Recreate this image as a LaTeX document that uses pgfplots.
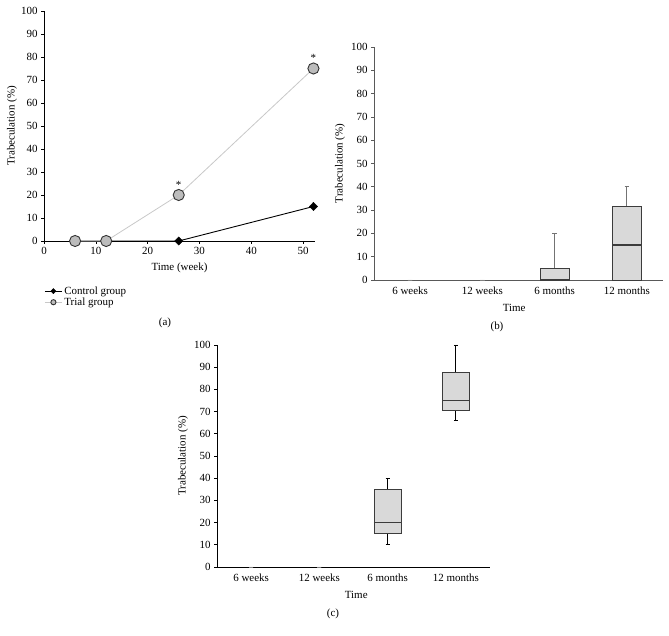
\documentclass[border=0pt]{standalone}
\usepackage{fontspec}
\setmainfont{Liberation Serif}
\usepackage{pgfplots}
\pgfplotsset{compat=1.18}
\usepgfplotslibrary{statistics}

\definecolor{boxfill}{RGB}{217,217,217}
\definecolor{boxedge}{RGB}{60,60,60}
\definecolor{trialline}{RGB}{200,200,200}
\definecolor{trialfill}{RGB}{188,188,188}

\pgfplotsset{
 mystyle/.style={
   scale only axis,
   anchor=south west,
   axis x line=bottom, axis y line=left,
   axis line style={-, black, line width=0.8pt},
   tick style={black, line width=0.6pt},
   major tick length=3bp,
   tick align=outside,
   ymin=0, ymax=100, ytick={0,10,...,100},
   font=\fontsize{11}{13}\selectfont,
   /pgf/number format/assume math mode=true,
   ticklabel style={font=\fontsize{11}{13}\selectfont},
   ylabel={Trabeculation (\%)},
   clip=false,
   boxplot/draw direction=y,
 },
 mybox/.style={
   boxplot/box extend=0.4,
   boxplot/whisker extend=0.06,
   fill=boxfill, draw=boxedge, line width=0.9pt,
   boxplot/every median/.style={draw=boxedge, line width=1.1pt},
   boxplot/every whisker/.style={draw=#1, line width=0.9pt},
 },
 mybox/.default=black,
 myzero/.style={
   boxplot/box extend=0.06,
   boxplot/whisker extend=0.0,
   fill=boxfill, draw=gray, line width=0.9pt,
 },
}

\begin{document}
\begin{tikzpicture}[x=1bp,y=1bp]
\useasboundingbox (0,0) rectangle (669,636);

% ---------------- (a)
\begin{axis}[mystyle,
  at={(44bp,395bp)}, width=271bp, height=230bp,
  xmin=0, xmax=52.3, xtick={0,10,...,50},
  xlabel={Time (week)},
  xlabel style={at={(axis description cs:0.5,-0.117)}, anchor=center},
  ylabel style={at={(axis description cs:-0.118,0.5)}, anchor=center},
  legend style={at={(axis description cs:-0.01,-0.18)}, anchor=north west,
    draw=none, fill=none, font=\fontsize{11}{13}\selectfont,
    row sep=-2pt},
  legend cell align=left,
  legend image post style={mark size=2.6pt},
]
\addplot[black, line width=0.9pt, mark=diamond*, mark size=4.2pt,
  mark options={fill=black, draw=black, xscale=1.3, line width=0.4pt}]
  coordinates {(6,0) (12,0) (26,0) (52,15)};
\addlegendentry{Control group}
\addplot[trialline, line width=0.8pt, mark=*, mark size=5.6pt,
  mark options={fill=trialfill, draw=black!80, line width=0.9pt}]
  coordinates {(6,0) (12,0) (26,20) (52,75)};
\addlegendentry{Trial group}
\node[anchor=south, inner sep=0pt] at (axis cs:26,20) [yshift=6.5bp] {*};
\node[anchor=south, inner sep=0pt] at (axis cs:52,75) [yshift=6.5bp] {*};
\end{axis}
\node[font=\fontsize{11}{13}\selectfont] at (165,313) {(a)};

% ---------------- (b)
\begin{axis}[mystyle,
  at={(374bp,356bp)}, width=289bp, height=233bp,
  axis line style={-, black!65, line width=0.8pt},
  tick style={black!65, line width=0.6pt},
  xmin=0.5, xmax=4.5, xtick={1,2,3,4},
  xticklabels={6 weeks,12 weeks,6 months,12 months},
  x tick style={draw=none},
  extra x ticks={1.5,2.5,3.5,4.5}, extra x tick labels={},
  extra x tick style={tick style={draw=black!55, line width=0.6pt}, major tick length=2bp},
  xlabel={Time},
  xlabel style={at={(axis description cs:0.485,-0.12)}, anchor=center},
  ylabel style={at={(axis description cs:-0.118,0.5)}, anchor=center},
]
\addplot[myzero, boxplot prepared={draw position=1, lower whisker=0,
  lower quartile=0, median=0, upper quartile=0, upper whisker=0}] coordinates {};
\addplot[myzero, boxplot prepared={draw position=2, lower whisker=0,
  lower quartile=0, median=0, upper quartile=0, upper whisker=0}] coordinates {};
\addplot[mybox=black!55, boxplot prepared={draw position=3, lower whisker=0,
  lower quartile=0, median=0, upper quartile=5, upper whisker=20}] coordinates {};
\addplot[mybox=black!55, boxplot prepared={draw position=4, lower whisker=0,
  lower quartile=0, median=15, upper quartile=31.5, upper whisker=40}] coordinates {};
\end{axis}
\node[font=\fontsize{11}{13}\selectfont] at (497,309) {(b)};

% ---------------- (c)
\begin{axis}[mystyle,
  at={(217bp,69bp)}, width=273bp, height=222bp,
  xmin=0.5, xmax=4.5, xtick={1,2,3,4},
  xticklabels={6 weeks,12 weeks,6 months,12 months},
  x tick style={draw=none},
  extra x ticks={1.5,2.5,3.5,4.5}, extra x tick labels={},
  extra x tick style={tick style={draw=black, line width=0.6pt}},
  xlabel={Time},
  xlabel style={at={(axis description cs:0.51,-0.126)}, anchor=center},
  ylabel style={at={(axis description cs:-0.125,0.5)}, anchor=center},
]
\addplot[myzero, boxplot prepared={draw position=1, lower whisker=0,
  lower quartile=0, median=0, upper quartile=0, upper whisker=0}] coordinates {};
\addplot[myzero, boxplot prepared={draw position=2, lower whisker=0,
  lower quartile=0, median=0, upper quartile=0, upper whisker=0}] coordinates {};
\addplot[mybox, boxplot prepared={draw position=3, lower whisker=10,
  lower quartile=15, median=20, upper quartile=35, upper whisker=40}] coordinates {};
\addplot[mybox, boxplot prepared={draw position=4, lower whisker=66,
  lower quartile=70.5, median=75, upper quartile=87.5, upper whisker=100}] coordinates {};
\end{axis}
\node[font=\fontsize{11}{13}\selectfont] at (333,22) {(c)};
\end{tikzpicture}
\end{document}
